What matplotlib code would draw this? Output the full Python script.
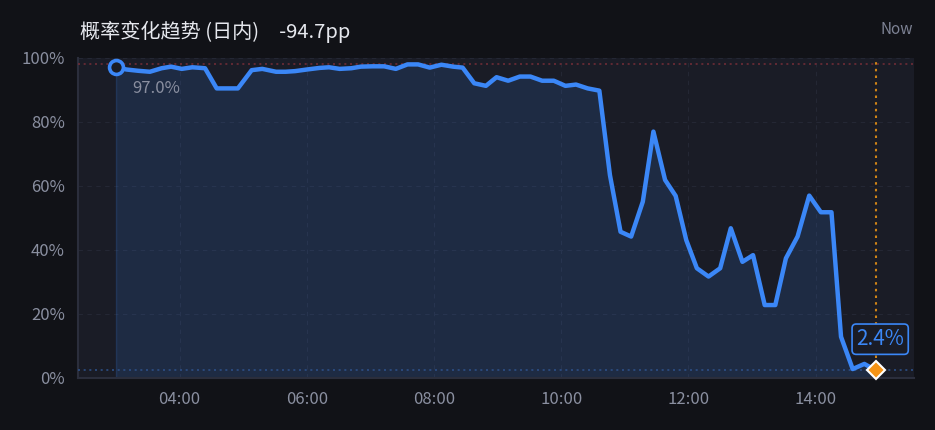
import matplotlib
matplotlib.use('Agg')
import matplotlib.pyplot as plt
from matplotlib.ticker import FixedLocator, FuncFormatter

plt.rcParams['font.family'] = ['Noto Sans CJK SC', 'DejaVu Sans']

# ── data (time of day, probability in %) ────────────────────────────────
times = ['03:00', '03:10', '03:21', '03:32', '03:43', '03:52', '04:02', '04:12',
         '04:24', '04:35', '04:45', '04:55', '05:08', '05:18', '05:31', '05:40',
         '05:49', '06:00', '06:12', '06:21', '06:31', '06:42', '06:51', '07:02',
         '07:13', '07:24', '07:35', '07:45', '07:56', '08:07', '08:18', '08:27',
         '08:38', '08:49', '08:59', '09:10', '09:21', '09:31', '09:42', '09:53',
         '10:04', '10:14', '10:25', '10:36', '10:46', '10:56', '11:06', '11:17',
         '11:27', '11:38', '11:48', '11:58', '12:08', '12:19', '12:30', '12:40',
         '12:51', '13:01', '13:12', '13:22', '13:32', '13:43', '13:54', '14:05',
         '14:15', '14:24', '14:35', '14:46', '14:57']
probs = [97.04, 96.4, 96.0, 95.7, 96.8, 97.3, 96.6, 97.1,
         96.8, 90.5, 90.5, 90.5, 96.2, 96.6, 95.7, 95.7,
         95.9, 96.4, 96.9, 97.1, 96.6, 96.8, 97.3, 97.4,
         97.4, 96.6, 98.0, 98.0, 97.0, 97.9, 97.3, 97.0,
         92.1, 91.3, 94.0, 92.9, 94.2, 94.2, 92.9, 92.9,
         91.3, 91.7, 90.5, 89.8, 63.4, 45.7, 44.2, 55.1,
         77.0, 61.9, 56.9, 43.1, 34.3, 31.7, 34.3, 46.8,
         36.3, 38.4, 22.8, 22.8, 37.4, 44.2, 57.0, 51.8,
         51.8, 12.9, 2.8, 4.4, 2.36]
x_tick_labels = ['04:00', '06:00', '08:00', '10:00', '12:00', '14:00']
y_ticks = [0, 20, 40, 60, 80, 100]
title = '概率变化趋势 (日内)'


def to_min(s):
    h, m = s.split(':')
    return int(h) * 60 + int(m)


x = [to_min(t) for t in times]
x_ticks = [to_min(t) for t in x_tick_labels]
change = probs[-1] - probs[0]

# ── colours ──────────────────────────────────────────────────────────────
BG = '#111217'
PANEL = '#1a1c26'
BLUE = '#3b87f7'
TICK = '#8a8fa0'

fig = plt.figure(figsize=(9.35, 4.3), dpi=100, facecolor=BG)
ax = fig.add_axes([78 / 935, 52 / 430, 836 / 935, 320 / 430])
ax.set_facecolor(PANEL)

ax.fill_between(x, probs, 0, color=BLUE, alpha=0.14, lw=0, zorder=2)
ax.plot([x[0], x[0]], [0, probs[0]], color=BLUE, alpha=0.18, lw=1, zorder=2)
ax.plot(x, probs, color=BLUE, lw=3.2, solid_joinstyle='round', zorder=4)

# reference lines: max and last value
ax.axhline(max(probs), color='#6e2c36', ls=(0, (1.2, 2.2)), lw=1.2, zorder=3)
ax.axhline(probs[-1], color='#2d4f86', ls=(0, (1.2, 2.2)), lw=1.2, zorder=3)
ax.axvline(x[-1], color='#d08416', ls=(0, (1.2, 2.0)), lw=1.5, zorder=3)

# start marker + label
ax.plot(x[0], probs[0], 'o', ms=10, mfc=PANEL, mec=BLUE, mew=2.6, zorder=5)
ax.annotate(f'{probs[0]:.1f}%', (x[0], probs[0]), xytext=(12, -15.5),
            textcoords='offset points', ha='left', va='center',
            color=TICK, fontsize=12, zorder=6)

# end marker + value box
ax.plot(x[-1], probs[-1], 'D', ms=9.5, mfc='#f59315', mec='white', mew=1.5,
        zorder=6, clip_on=False)
ax.annotate(f'{probs[-1]:.1f}%', (x[-1], probs[-1]), xytext=(3, 22.5),
            textcoords='offset points', ha='center', va='center',
            color=BLUE, fontsize=15,
            bbox=dict(boxstyle='round,pad=0.2,rounding_size=0.2',
                      fc=PANEL, ec=BLUE, lw=1.2), zorder=7)

span = x[-1] - x[0]
ax.set_xlim(x[0] - 0.05 * span, x[-1] + 0.05 * span)
ax.set_ylim(0, 100)
ax.xaxis.set_major_locator(FixedLocator(x_ticks))
ax.xaxis.set_major_formatter(FuncFormatter(lambda v, p: f'{int(v) // 60:02d}:{int(v) % 60:02d}'))
ax.yaxis.set_major_locator(FixedLocator(y_ticks))
ax.yaxis.set_major_formatter(FuncFormatter(lambda v, p: f'{v:.0f}%'))
ax.tick_params(length=0, colors=TICK, labelsize=12)
ax.tick_params(axis='y', pad=9.5)
ax.tick_params(axis='x', pad=9)
ax.grid(True, color='#242734', ls=(0, (4, 4)), lw=0.8, zorder=1)

for side in ['top', 'right']:
    ax.spines[side].set_visible(False)
for side in ['left', 'bottom']:
    ax.spines[side].set_color('#2b2e3c')
    ax.spines[side].set_linewidth(1.5)

fig.text(80 / 935, 1 - 32 / 430, f'{title}\u3000{change:.1f}pp', color='#e6e8ee',
         fontsize=14.5, va='center', ha='left')
fig.text(913 / 935, 1 - 30 / 430, 'Now', color='#7d8294', fontsize=11,
         va='center', ha='right')

fig.savefig('out.png', dpi=100, facecolor=BG)
